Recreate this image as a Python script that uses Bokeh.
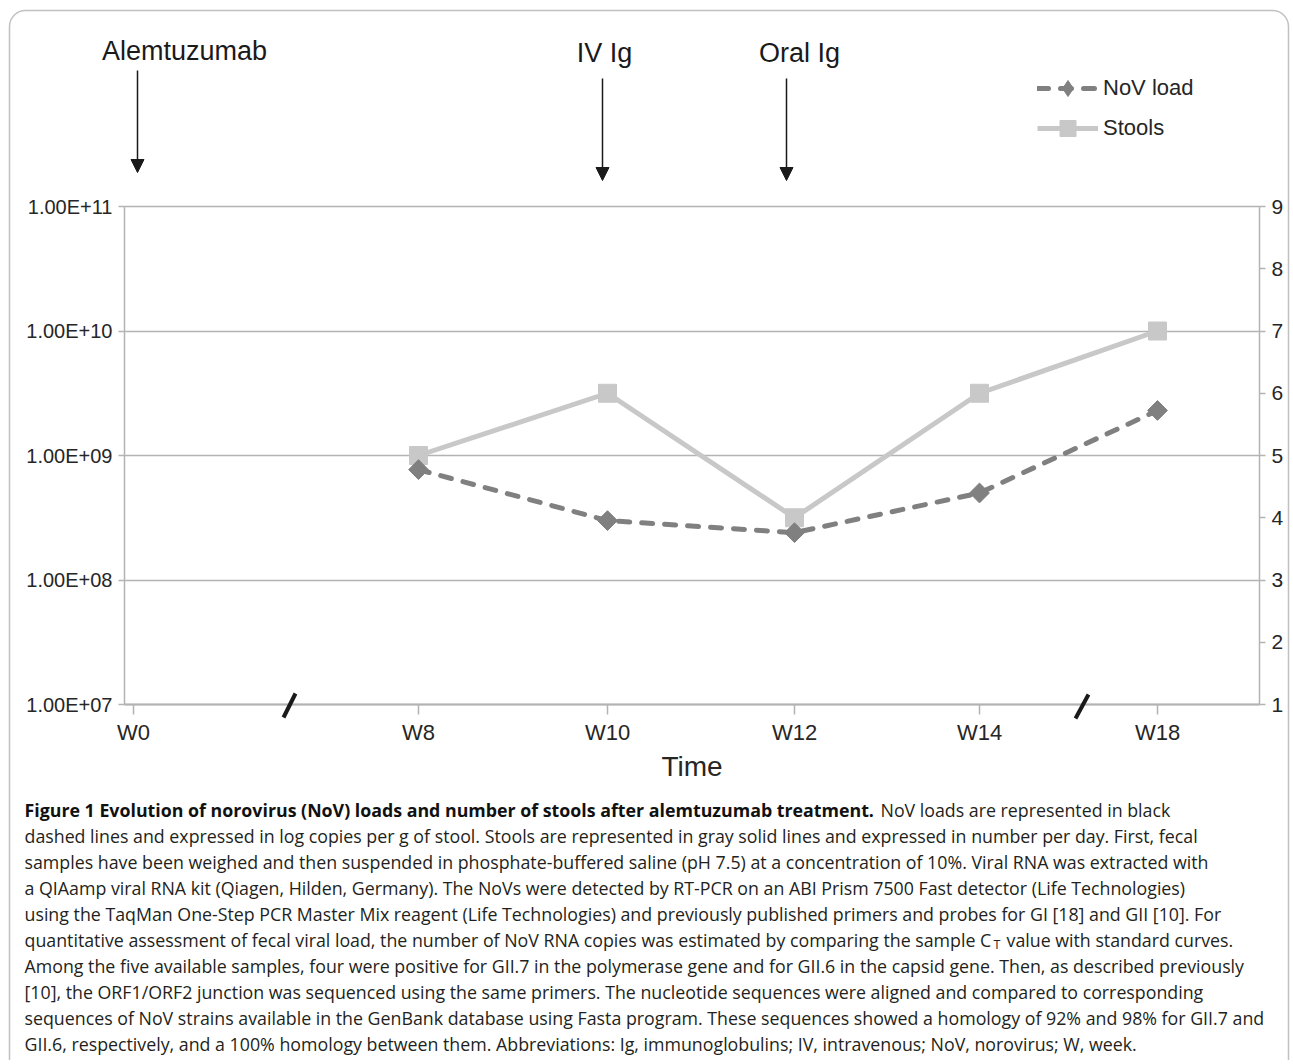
import math
from bokeh.plotting import figure
from bokeh.models import (Range1d, FixedTicker, LinearAxis, LinearScale, Label, Arrow, NormalHead,
                          Legend, LegendItem, BoxAnnotation, Grid)
from bokeh.embed import file_html
from bokeh.resources import INLINE

# ---------------- data ----------------
weeks = ["W0", "W8", "W10", "W12", "W14", "W18"]
sample_weeks = ["W8", "W10", "W12", "W14", "W18"]
nov_load = [7.7e8, 3.0e8, 2.4e8, 5.0e8, 2.3e9]      # copies per g of stool
stools_per_day = [5, 6, 4, 6, 7]                      # number per day
load_ticks = [1e7, 1e8, 1e9, 1e10, 1e11]
load_tick_labels = ["1.00E+07", "1.00E+08", "1.00E+09", "1.00E+10", "1.00E+11"]
stool_ticks = [1, 2, 3, 4, 5, 6, 7, 8, 9]
events = ["Alemtuzumab", "IV Ig", "Oral Ig"]

caption_bold = "Figure 1 Evolution of norovirus (NoV) loads and number of stools after alemtuzumab treatment."
caption_lines = [
    "NoV loads are represented in black",
    "dashed lines and expressed in log copies per g of stool. Stools are represented in gray solid lines and expressed in number per day. First, fecal",
    "samples have been weighed and then suspended in phosphate-buffered saline (pH 7.5) at a concentration of 10%. Viral RNA was extracted with",
    "a QIAamp viral RNA kit (Qiagen, Hilden, Germany). The NoVs were detected by RT-PCR on an ABI Prism 7500 Fast detector (Life Technologies)",
    "using the TaqMan One-Step PCR Master Mix reagent (Life Technologies) and previously published primers and probes for GI [18] and GII [10]. For",
    "quantitative assessment of fecal viral load, the number of NoV RNA copies was estimated by comparing the sample C",
    "Among the five available samples, four were positive for GII.7 in the polymerase gene and for GII.6 in the capsid gene. Then, as described previously",
    "[10], the ORF1/ORF2 junction was sequenced using the same primers. The nucleotide sequences were aligned and compared to corresponding",
    "sequences of NoV strains available in the GenBank database using Fasta program. These sequences showed a homology of 92% and 98% for GII.7 and",
    "GII.6, respectively, and a 100% homology between them. Abbreviations: Ig, immunoglobulins; IV, intravenous; NoV, norovirus; W, week.",
]
ct_sub = "T"
ct_rest = "value with standard curves."

# ---------------- layout (page pixels) ----------------
W, H = 1290, 1060
PL, PR, PT, PB = 124, 1259, 206, 704          # plot area on the page
week_pos = {"W0": 133, "W8": 418, "W10": 607, "W12": 794, "W14": 979, "W18": 1157}
AX = "Liberation Sans"
TXT = "#262626"
GRID = "#b3b3b3"
NOV_C = "#808080"
ST_C = "#c8c8c8"

dec_px = (PB - PT) / 4.0       # pixels per decade (left axis 1e7..1e11)
unit_px = (PB - PT) / 8.0      # pixels per stool (right axis 1..9)
y_start = 10 ** (7 - (H - PB) / dec_px)
y_end = 10 ** (11 + PT / dec_px)

p = figure(width=W, height=H,
           x_range=Range1d(0, W), y_range=Range1d(y_start, y_end), y_axis_type="log",
           output_backend="svg", toolbar_location=None,
           min_border_left=0, min_border_right=0, min_border_top=0, min_border_bottom=0,
           background_fill_color="white", border_fill_color="white", outline_line_color=None)
p.extra_y_ranges = {"stools": Range1d(1 - (H - PB) / unit_px, 9 + PT / unit_px),
                    "page": Range1d(H, 0)}
p.extra_y_scales = {"stools": LinearScale(), "page": LinearScale()}

# left (log) axis
ya = p.yaxis[0]
ya.fixed_location = PL
ya.bounds = (1e7, 1e11)
ya.ticker = FixedTicker(ticks=load_ticks)
ya.major_label_overrides = {t: l for t, l in zip(load_ticks, load_tick_labels)}
ya.major_tick_out = 6
ya.major_tick_in = 0
ya.minor_tick_out = 0
ya.minor_tick_in = 0
ya.axis_line_color = GRID
ya.axis_line_width = 1.5
ya.major_tick_line_color = GRID
ya.major_tick_line_width = 1.5
ya.major_label_text_font = AX
ya.major_label_text_font_size = "20px"
ya.major_label_text_color = TXT
ya.major_label_standoff = 6

# horizontal grid lines
p.ygrid.ticker = FixedTicker(ticks=load_ticks)
p.ygrid.grid_line_color = GRID
p.ygrid.grid_line_width = 1.5
p.xgrid.grid_line_color = None
if "cross_bounds" in Grid.properties():
    p.ygrid.cross_bounds = (PL, PR)
else:
    p.ygrid.grid_line_color = None
    p.segment(x0=PL, x1=PR, y0=load_ticks, y1=load_ticks, line_color=GRID, line_width=1.5)

# right axis
ra = LinearAxis(y_range_name="stools", ticker=FixedTicker(ticks=stool_ticks))
ra.fixed_location = PR
ra.bounds = (1, 9)
ra.major_tick_out = 6
ra.major_tick_in = 0
ra.minor_tick_out = 0
ra.minor_tick_in = 0
ra.axis_line_color = GRID
ra.axis_line_width = 1.5
ra.major_tick_line_color = GRID
ra.major_tick_line_width = 1.5
ra.major_label_text_font = AX
ra.major_label_text_font_size = "21px"
ra.major_label_text_color = TXT
ra.major_label_standoff = 6
p.add_layout(ra, "right")

# bottom axis
xa = p.xaxis[0]
xa.fixed_location = 1e7
xa.bounds = (PL, PR)
xa.ticker = FixedTicker(ticks=[week_pos[w] for w in weeks])
xa.major_label_overrides = {week_pos[w]: w for w in weeks}
xa.major_tick_out = 10
xa.major_tick_in = 0
xa.minor_tick_out = 0
xa.minor_tick_in = 0
xa.axis_line_color = GRID
xa.axis_line_width = 2
xa.major_tick_line_color = GRID
xa.major_tick_line_width = 1.5
xa.major_label_text_font = AX
xa.major_label_text_font_size = "22px"
xa.major_label_text_color = TXT
xa.major_label_standoff = 5
xa.axis_label = "Time"
xa.axis_label_text_font = AX
xa.axis_label_text_font_size = "28px"
xa.axis_label_text_font_style = "normal"
xa.axis_label_text_color = TXT
xa.axis_label_standoff = 3

# series
sx = [week_pos[w] for w in sample_weeks]
st_line = p.line(sx, stools_per_day, y_range_name="stools", line_color=ST_C, line_width=5)
st_pts = p.scatter(sx, stools_per_day, y_range_name="stools", marker="square", size=18,
                   fill_color=ST_C, line_color=ST_C)
nv_line = p.line(sx, nov_load, line_color=NOV_C, line_width=5, line_dash="11 12", line_cap="round")
# diamond key used by the legend (hidden beneath the plotted markers)
nv_key = p.scatter(sx, nov_load, marker="diamond", size=4, fill_color=NOV_C, line_color=NOV_C)
nv_pts = p.scatter(sx, nov_load, marker="square", angle=math.pi / 4, size=14,
                   fill_color=NOV_C, line_color=NOV_C)

legend = Legend(items=[LegendItem(label="NoV load", renderers=[nv_line, nv_key]),
                       LegendItem(label="Stools", renderers=[st_line, st_pts])],
                location=(1037, H - 148), orientation="vertical",
                glyph_width=61, glyph_height=40, label_height=34, label_standoff=5,
                spacing=0, padding=0, margin=0,
                border_line_color=None, background_fill_alpha=0,
                label_text_font=AX, label_text_font_size="22px", label_text_color=TXT)
p.add_layout(legend)

# treatment events: labels and arrows
ev_label_x = [184, 604, 799]
ev_label_y = [50, 52, 52]
ev_arrow_x = [137, 602, 786]
ev_arrow_top = [70, 78, 78]
ev_arrow_tip = [172, 180, 180]
for name, lx, ly, axp, at, ab in zip(events, ev_label_x, ev_label_y, ev_arrow_x, ev_arrow_top, ev_arrow_tip):
    p.add_layout(Label(x=lx, y=ly, y_range_name="page", text=name, text_align="center",
                       text_baseline="alphabetic", text_font=AX, text_font_size="27px",
                       text_color="#1a1a1a"))
    p.add_layout(Arrow(x_start=axp, y_start=at, x_end=axp, y_end=ab, y_range_name="page",
                       line_color="#1a1a1a", line_width=1.5,
                       end=NormalHead(size=13, fill_color="#1a1a1a", line_color="#1a1a1a")))

# axis break marks
for (x0, y0, x1, y1) in [(283, 717, 295, 693), (1075, 718, 1088, 694)]:
    p.add_layout(Arrow(x_start=x0, y_start=y0, x_end=x1, y_end=y1, y_range_name="page",
                       line_color="#1a1a1a", line_width=4, end=None))

# outer frame
p.add_layout(BoxAnnotation(left=9, right=1288, top=10, bottom=1100, y_range_name="page",
                           fill_alpha=0, line_color="#333333", line_width=1.5, border_radius=16))

# caption
CAP = "Open Sans"
CS = "17.8px"
base0 = 809
step = 26.1
p.add_layout(Label(x=24, y=base0, y_range_name="page", text=caption_bold, text_font=CAP,
                   text_font_size=CS, text_font_style="bold", text_baseline="alphabetic",
                   text_color="#111111"))
for i, line in enumerate(caption_lines):
    x0 = 880 if i == 0 else 24
    p.add_layout(Label(x=x0, y=base0 + i * step, y_range_name="page", text=line, text_font=CAP,
                       text_font_size=CS, text_baseline="alphabetic", text_color="#231f20"))
yct = base0 + 5 * step
p.add_layout(Label(x=993, y=yct + 4, y_range_name="page", text=ct_sub, text_font=CAP,
                   text_font_size="12.5px", text_baseline="alphabetic", text_color="#231f20"))
p.add_layout(Label(x=1006, y=yct, y_range_name="page", text=ct_rest, text_font=CAP,
                   text_font_size=CS, text_baseline="alphabetic", text_color="#231f20"))

open("out.html", "w").write(file_html(p, INLINE))
